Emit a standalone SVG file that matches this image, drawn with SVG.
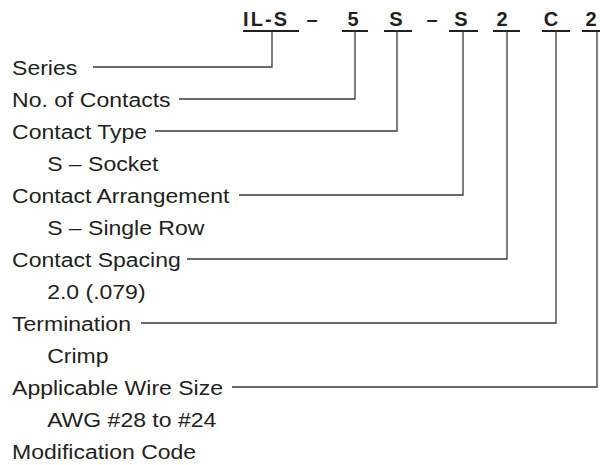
<svg xmlns="http://www.w3.org/2000/svg" width="600" height="465" viewBox="0 0 600 465">
<style>
.lbl{font-family:"Liberation Sans",Arial,sans-serif;font-size:21px;fill:#231f20}
.hd{font-family:"Liberation Sans",Arial,sans-serif;font-size:20px;font-weight:bold;fill:#231f20}
.ul{stroke:#231f20;stroke-width:2;fill:none}
.cn{stroke:#3a3a3a;stroke-width:1.3;fill:none}
</style>
<rect width="600" height="465" fill="#fff"/>
<g id="header">
<text class="hd" x="243" y="26" textLength="44" lengthAdjust="spacing">IL-S</text>
<text class="hd" x="312" y="26" text-anchor="middle">–</text>
<text class="hd" x="353" y="26" text-anchor="middle">5</text>
<text class="hd" x="396" y="26" text-anchor="middle">S</text>
<text class="hd" x="432" y="26" text-anchor="middle">–</text>
<text class="hd" x="461" y="26" text-anchor="middle">S</text>
<text class="hd" x="502" y="26" text-anchor="middle">2</text>
<text class="hd" x="551" y="26" text-anchor="middle">C</text>
<text class="hd" x="591" y="26" text-anchor="middle">2</text>
<path class="ul" d="M243 31H299M342 31H368M384 31H412M449 31H478M493 31H520M542 31H570M582 31H600"/>
</g>
<g id="connectors">
<path class="cn" d="M272 31V67H93"/>
<path class="cn" d="M355 31V99H179"/>
<path class="cn" d="M397 31V131H155"/>
<path class="cn" d="M463 31V195H239"/>
<path class="cn" d="M507 31V259H187"/>
<path class="cn" d="M556 31V323H141"/>
<path class="cn" d="M597 31V387H232"/>
</g>
<g transform="scale(1.096 1)">
<g id="series"><text class="lbl" x="11" y="75">Series</text></g>
<g id="contacts"><text class="lbl" x="11" y="107">No. of Contacts</text></g>
<g id="contact-type"><text class="lbl" x="11" y="139">Contact Type</text><text class="lbl" x="43" y="171">S – Socket</text></g>
<g id="arrangement"><text class="lbl" x="11" y="203">Contact Arrangement</text><text class="lbl" x="43" y="235">S – Single Row</text></g>
<g id="spacing"><text class="lbl" x="11" y="267">Contact Spacing</text><text class="lbl" x="43" y="299">2.0 (.079)</text></g>
<g id="termination"><text class="lbl" x="11" y="331">Termination</text><text class="lbl" x="43" y="363">Crimp</text></g>
<g id="wire-size"><text class="lbl" x="11" y="395">Applicable Wire Size</text><text class="lbl" x="43" y="427">AWG #28 to #24</text></g>
<g id="modification"><text class="lbl" x="11" y="459">Modification Code</text></g>
</g>
</svg>
